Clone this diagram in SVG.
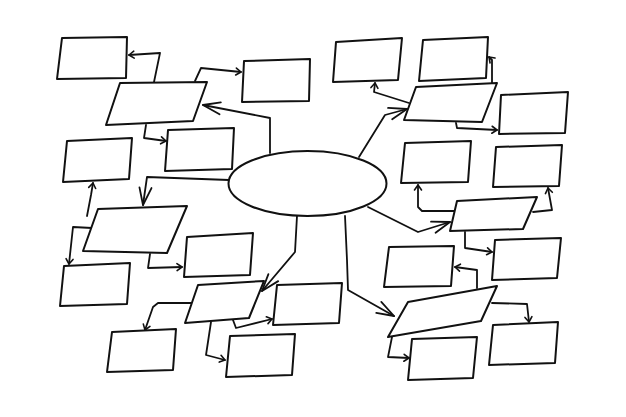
<svg xmlns="http://www.w3.org/2000/svg" width="626" height="417" viewBox="0 0 626 417">
<defs>
<style>
.n{fill:#fff;stroke:#111;stroke-width:2;stroke-linejoin:round}
.c{fill:none;stroke:#111;stroke-width:1.8;stroke-linejoin:round;stroke-linecap:round}
.s{marker-end:url(#sm)}
.b{marker-end:url(#bg)}
</style>
<marker id="sm" markerUnits="userSpaceOnUse" markerWidth="10" markerHeight="10" refX="6" refY="4" orient="auto" overflow="visible">
<path d="M1,0.5 L6,4 L1,7.5" fill="none" stroke="#111" stroke-width="1.6" stroke-linecap="round" stroke-linejoin="round"/>
</marker>
<marker id="bg" markerUnits="userSpaceOnUse" markerWidth="24" markerHeight="16" refX="18" refY="6" orient="auto" overflow="visible">
<path d="M0,0 L18,6 L1,12" fill="none" stroke="#111" stroke-width="1.8" stroke-linecap="round" stroke-linejoin="round"/>
</marker>
</defs>
<rect width="626" height="417" fill="#fff"/>
<g id="connectors">
<path class="c s" d="M154,82 L160,53 L129,55"/>
<path class="c s" d="M195,81 L201,68 L241,72"/>
<path class="c b" d="M270,153 L270,118 L203,105"/>
<path class="c s" d="M146,125 L144,138 L166,141"/>
<path class="c b" d="M229,180 L147,177 L143,205"/>
<path class="c s" d="M87,216 L91,195 L93,183"/>
<path class="c s" d="M92,228 L73,227 L69,264"/>
<path class="c s" d="M150,254 L148,268 L182,267"/>
<path class="c b" d="M297,216 L295,252 L262,291"/>
<path class="c s" d="M233,320 L236,328 L272,319"/>
<path class="c s" d="M192,303 L158,303 L153,307 L145,330"/>
<path class="c s" d="M211,322 L206,355 L225,360"/>
<path class="c b" d="M359,157 L385,115 L407,109"/>
<path class="c s" d="M409,103 L374,92 L375,83"/>
<path class="c s" d="M492,84 L492,60 L489,57"/>
<path class="c s" d="M456,123 L457,128 L497,130"/>
<path class="c b" d="M368,207 L418,232 L450,222"/>
<path class="c s" d="M455,211 L422,211 L418,207 L418,185"/>
<path class="c s" d="M533,212 L552,210 L548,188"/>
<path class="c s" d="M465,232 L465,248 L492,252"/>
<path class="c b" d="M345,216 L347,260 L348,290 L394,316"/>
<path class="c s" d="M477,288 L477,270 L455,267"/>
<path class="c s" d="M492,303 L527,304 L529,322"/>
<path class="c s" d="M392,337 L388,357 L409,358"/>
</g>
<g id="center"><ellipse class="n" cx="307.5" cy="183.5" rx="79" ry="32.5"/></g>
<g id="n1"><polygon class="n" points="62,38 127,37 126,78 57,79"/></g>
<g id="n2"><polygon class="n" points="244,61 310,59 309,101 242,102"/></g>
<g id="n3"><polygon class="n" points="120,83 207,82 193,121 106,125"/></g>
<g id="n4"><polygon class="n" points="168,130 234,128 232,169 165,171"/></g>
<g id="n5"><polygon class="n" points="67,141 132,138 129,179 63,182"/></g>
<g id="n6"><polygon class="n" points="98,209 187,206 167,253 83,251"/></g>
<g id="n7"><polygon class="n" points="187,237 253,233 250,275 184,277"/></g>
<g id="n8"><polygon class="n" points="64,266 130,263 127,304 60,306"/></g>
<g id="n9"><polygon class="n" points="198,285 264,281 249,318 185,323"/></g>
<g id="n10"><polygon class="n" points="277,285 342,283 339,323 273,325"/></g>
<g id="n11"><polygon class="n" points="112,332 176,329 173,370 107,372"/></g>
<g id="n12"><polygon class="n" points="230,336 295,334 292,375 226,377"/></g>
<g id="n13"><polygon class="n" points="336,42 402,38 398,80 333,82"/></g>
<g id="n14"><polygon class="n" points="423,40 488,37 486,78 419,81"/></g>
<g id="n15"><polygon class="n" points="416,87 497,83 482,122 404,120"/></g>
<g id="n16"><polygon class="n" points="501,95 568,92 565,133 499,134"/></g>
<g id="n17"><polygon class="n" points="405,143 471,141 468,182 401,183"/></g>
<g id="n18"><polygon class="n" points="496,147 562,145 559,186 493,187"/></g>
<g id="n19"><polygon class="n" points="457,201 537,197 523,229 450,231"/></g>
<g id="n20"><polygon class="n" points="495,240 561,238 557,278 492,280"/></g>
<g id="n21"><polygon class="n" points="389,247 454,246 451,286 384,287"/></g>
<g id="n22"><polygon class="n" points="408,302 497,286 481,321 388,337"/></g>
<g id="n23"><polygon class="n" points="493,325 558,322 555,363 489,365"/></g>
<g id="n24"><polygon class="n" points="412,339 477,337 473,378 408,380"/></g>
</svg>
